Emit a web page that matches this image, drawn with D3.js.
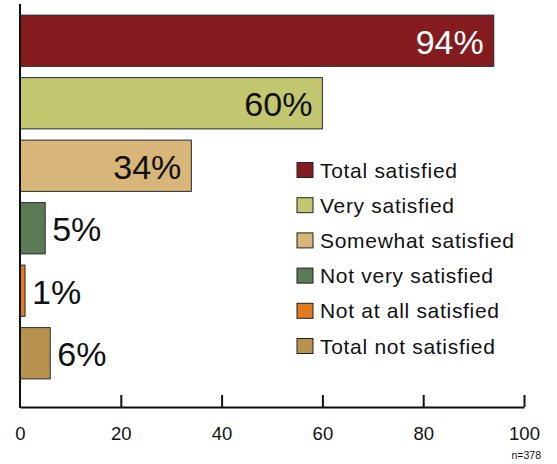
<!DOCTYPE html>
<html>
<head>
<meta charset="utf-8">
<script src="https://cdn.jsdelivr.net/npm/d3@7"></script>
<style>
  html, body { margin: 0; padding: 0; background: #fff; }
  svg { display: block; font-family: "Liberation Sans", Arial, sans-serif; }
</style>
</head>
<body>
<svg id="chart" width="557" height="464"></svg>
<script>
// Satisfaction survey results (n=378)
const categories = ["Total satisfied", "Very satisfied", "Somewhat satisfied",
                    "Not very satisfied", "Not at all satisfied", "Total not satisfied"];
const values = [94, 60, 34, 5, 1, 6];
const colors = ["#841B1E", "#C3C76F", "#D8B578", "#5B7B54", "#E07B22", "#B8924F"];
const labelInside = [true, true, true, false, false, false];
const labelColors = ["#ffffff", "#111111", "#111111", "#111111", "#111111", "#111111"];
const xTicks = [0, 20, 40, 60, 80, 100];
const sampleNote = "n=378";

const svg = d3.select("#chart");

const x = d3.scaleLinear().domain([0, 100]).range([20, 524]);
const y = d3.scaleBand().domain(categories).range([9.5, 384.5])
  .paddingInner(0.18).paddingOuter(0.09);
const axisY = 407;

// bars
svg.append("g").selectAll("rect")
  .data(categories)
  .join("rect")
  .attr("x", x(0))
  .attr("y", d => y(d))
  .attr("width", (d, i) => x(values[i]) - x(0))
  .attr("height", y.bandwidth())
  .attr("fill", (d, i) => colors[i])
  .attr("stroke", "#2a2a2a")
  .attr("stroke-width", 1);

// value labels
svg.append("g").selectAll("text")
  .data(categories)
  .join("text")
  .attr("x", (d, i) => labelInside[i] ? x(values[i]) - 10 : x(values[i]) + 7)
  .attr("y", d => y(d) + y.bandwidth() / 2 + 1)
  .attr("dy", "0.36em")
  .attr("text-anchor", (d, i) => labelInside[i] ? "end" : "start")
  .attr("font-size", 34)
  .attr("fill", (d, i) => labelColors[i])
  .text((d, i) => values[i] + "%");

// x axis with upward ticks
const xAxis = d3.axisBottom(x).tickValues(xTicks).tickSize(-12).tickPadding(20).tickSizeOuter(0);
const gx = svg.append("g").attr("transform", `translate(0,${axisY})`).call(xAxis);
gx.select(".domain").attr("stroke", "#111").attr("stroke-width", 2);
gx.selectAll(".tick line").attr("stroke", "#111").attr("stroke-width", 2);
gx.selectAll(".tick").filter(d => d === 0).select("line").remove();
gx.selectAll(".tick text")
  .attr("font-size", 18.5)
  .attr("font-family", "Liberation Sans, Arial, sans-serif")
  .attr("fill", "#111");

// left axis line
svg.append("line")
  .attr("x1", x(0)).attr("x2", x(0))
  .attr("y1", 4).attr("y2", axisY + 1)
  .attr("stroke", "#111").attr("stroke-width", 2);

// legend
const legend = svg.append("g").attr("transform", "translate(297,0)");
const rowY = d3.scaleLinear().domain([0, 5]).range([170, 346]);
const rows = legend.selectAll("g")
  .data(categories)
  .join("g")
  .attr("transform", (d, i) => `translate(0,${rowY(i)})`);
rows.append("rect")
  .attr("x", 0).attr("y", -7.5)
  .attr("width", 16).attr("height", 15)
  .attr("fill", (d, i) => colors[i])
  .attr("stroke", "#222").attr("stroke-width", 1);
rows.append("text")
  .attr("x", 23)
  .attr("dy", "0.36em")
  .attr("font-size", 21)
  .attr("letter-spacing", 0.7)
  .attr("fill", "#111")
  .text(d => d);

// sample size note
svg.append("text")
  .attr("x", 541).attr("y", 459)
  .attr("text-anchor", "end")
  .attr("font-size", 10.5)
  .attr("fill", "#111")
  .text(sampleNote);
</script>
</body>
</html>
